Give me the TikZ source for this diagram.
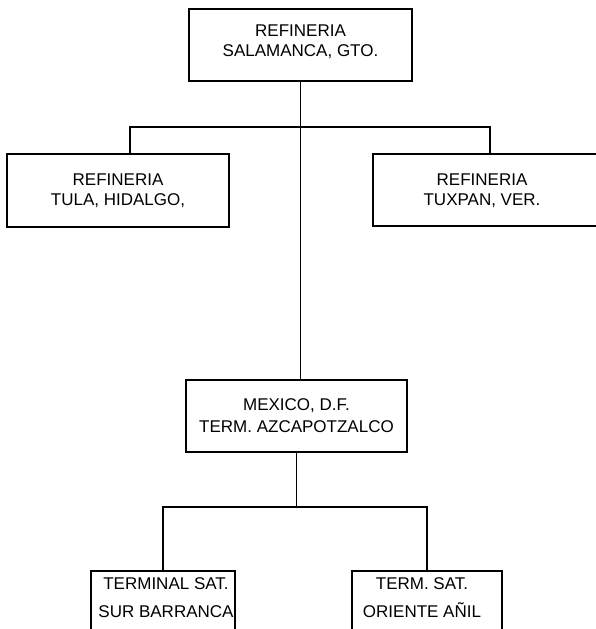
\documentclass[tikz,border=0pt]{standalone}
\usepackage{fontspec}
\setmainfont{Liberation Sans}
\begin{document}
\begin{tikzpicture}[x=1pt,y=-1pt,
  box/.style={draw=black,line width=1.5pt,rectangle,inner sep=0pt,align=center,
    font=\fontsize{17}{20}\selectfont},
  txt/.style={inner sep=0pt,align=center,font=\fontsize{17}{20}\selectfont},
  conn/.style={draw=black,line width=1.5pt}]
\useasboundingbox (0,0) rectangle (595,629);
% boxes
\node[box,minimum width=223pt,minimum height=72pt] (top) at (300.5,45) {};
\node[txt] (toptxt) at (300.5,42) {REFINERIA\\SALAMANCA, GTO.};
\node[box,minimum width=222pt,minimum height=73pt] (left) at (118,190.5) {REFINERIA\\TULA, HIDALGO,};
\node[box,minimum width=250pt,minimum height=72pt] (right) at (498,190) {};
\node[txt] (righttxt) at (482,191) {REFINERIA\\TUXPAN, VER.};
\node[box,minimum width=221pt,minimum height=72pt,font=\fontsize{17}{22}\selectfont] (mid) at (296.5,416) {MEXICO, D.F.\\TERM. AZCAPOTZALCO};
\node[box,minimum width=144pt,minimum height=90pt,anchor=north] (bl) at (163,570) {};
\node[txt,font=\fontsize{17}{28}\selectfont] (bltxt) at (166,598) {TERMINAL SAT.\\SUR BARRANCA};
\node[box,minimum width=150pt,minimum height=90pt,anchor=north] (br) at (427,570) {};
\node[txt,font=\fontsize{17}{28}\selectfont] (brtxt) at (422,598) {TERM. SAT.\\ORIENTE AÑIL};
% junctions
\coordinate (j1) at (300.5,127);
\coordinate (la) at (130,127);
\coordinate (ra) at (490,127);
\coordinate (j2) at (296.5,507);
% connectors
\draw[conn] (top.south) -- (top.south |- mid.north);
\draw[conn] (la |- left.north) -- (la) -- (ra) -- (ra |- right.north);
\draw[conn] (mid.south) -- (j2);
\draw[conn] (bl.north) -- (bl.north |- j2) -- (br.north |- j2) -- (br.north);
\end{tikzpicture}
\end{document}
